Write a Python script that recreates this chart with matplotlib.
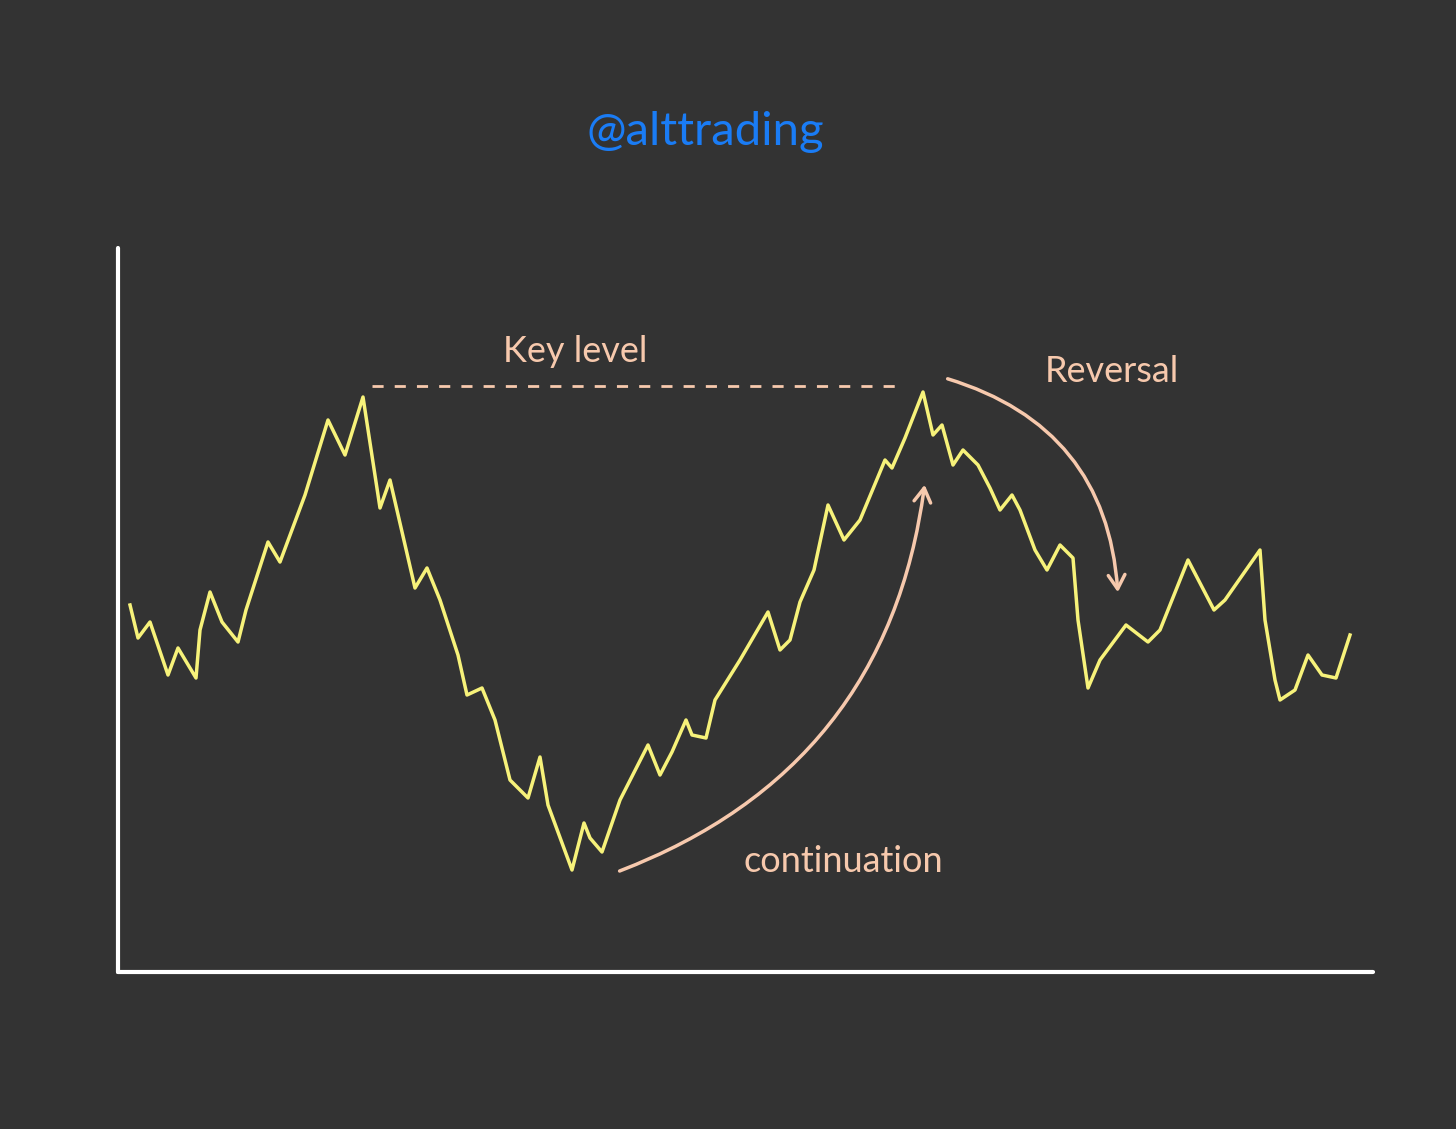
import matplotlib
matplotlib.use("Agg")
import matplotlib.pyplot as plt
from matplotlib.patches import FancyArrowPatch

# price path (x, y in canvas pixel units, y downward)
px = [130,138,150,168,178,196,200,210,222,238,246,268,280,305,328,345,363,380,390,415,427,440,458,467,482,495,510,528,540,548,572,584,590,602,620,648,660,672,686,692,706,715,740,768,780,790,800,814,828,844,860,885,892,905,923,933,942,953,963,978,990,1000,1012,1020,1035,1047,1060,1073,1078,1088,1100,1126,1148,1160,1188,1214,1225,1260,1265,1275,1280,1295,1308,1322,1336,1350]
py = [605,638,622,675,648,678,630,592,622,642,610,542,562,495,420,455,397,508,480,588,568,600,655,695,688,720,780,798,757,805,870,823,838,852,800,745,775,752,720,735,738,700,660,612,650,640,602,570,505,540,520,460,468,438,392,435,425,465,450,465,488,510,495,510,550,570,545,558,620,688,660,625,642,630,560,610,600,550,620,680,700,690,655,675,678,635]
key_level = 386
labels = ["Key level", "Reversal", "continuation"]
title = "@alttrading"

bg = "#333333"
peach = "#f7c9ad"
fig = plt.figure(figsize=(14.56, 11.29), dpi=100, facecolor=bg)
ax = fig.add_axes([0, 0, 1, 1])
ax.set_facecolor(bg)
ax.set_xlim(0, 1456); ax.set_ylim(1129, 0); ax.axis("off")

ax.plot([118, 118], [248, 972], color="white", lw=3, solid_capstyle="round")
ax.plot([118, 1373], [972, 972], color="white", lw=3, solid_capstyle="round")
ax.plot(px, py, color="#f7f27a", lw=2.5, solid_joinstyle="round")
ax.plot([372, 900], [key_level, key_level], color=peach, lw=2, ls=(0, (4, 4)))

ax.text(705, 132, title, color="#1a7cf5", fontsize=34, ha="center", va="center", family="Lato")
ax.text(575, 352, labels[0], color=peach, fontsize=26, ha="center", va="center", family="Lato")
ax.text(1112, 372, labels[1], color=peach, fontsize=26, ha="center", va="center", family="Lato")
ax.text(843, 862, labels[2], color=peach, fontsize=26, ha="center", va="center", family="Lato")

ax.add_patch(FancyArrowPatch((617, 872), (925, 482), connectionstyle="arc3,rad=0.3",
                             arrowstyle="->,head_length=10,head_width=6", color=peach, lw=2.5))
ax.add_patch(FancyArrowPatch((945, 378), (1118, 595), connectionstyle="arc3,rad=-0.35",
                             arrowstyle="->,head_length=10,head_width=6", color=peach, lw=2.5))
fig.savefig("out.png", dpi=100, facecolor=bg)
